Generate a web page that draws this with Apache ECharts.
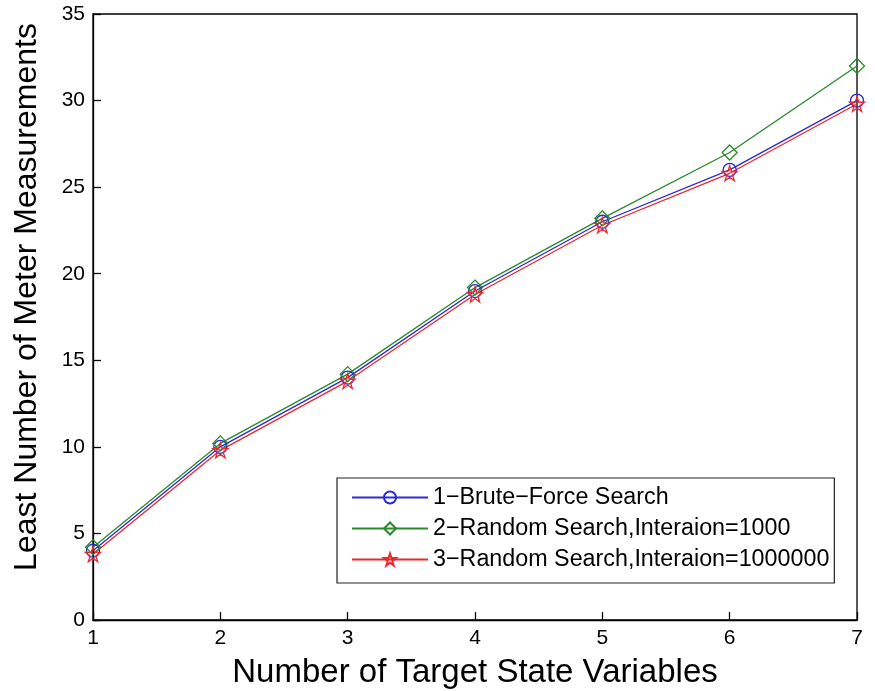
<!DOCTYPE html>
<html>
<head>
<meta charset="utf-8">
<script src="https://cdn.jsdelivr.net/npm/echarts@6/dist/echarts.min.js"></script>
<style>
  html, body { margin: 0; padding: 0; background: #fff; }
  #chart { width: 875px; height: 691px; }
</style>
</head>
<body>
<div id="chart"></div>
<script>
// Number of target state variables
const stateVars = [1, 2, 3, 4, 5, 6, 7];
// Least number of meter measurements found by each method
const bruteForce = [4, 10, 14, 19, 23, 26, 30];
const random1000 = [4.2, 10.2, 14.2, 19.2, 23.2, 27, 32];
const random1000000 = [3.8, 9.8, 13.8, 18.8, 22.8, 25.8, 29.8];

const seriesNames = [
  '1\u2212Brute\u2212Force Search',
  '2\u2212Random Search,Interaion=1000',
  '3\u2212Random Search,Interaion=1000000'
];

const FONT = '"Liberation Sans", Arial, Helvetica, sans-serif';
const STAR = 'path://M50,0 L61.8,35.3 L98.9,35.3 L68.8,57.4 L80.3,92.7 L50,70.9 L19.7,92.7 L31.2,57.4 L1.1,35.3 L38.2,35.3 Z';

function pairs(vals) {
  return stateVars.map((x, i) => [x, vals[i]]);
}

function lineSeries(name, vals, color, symbol, size) {
  return {
    name: name,
    type: 'line',
    data: pairs(vals),
    symbol: symbol,
    symbolSize: size,
    showAllSymbol: true,
    lineStyle: { color: color, width: 1.3 },
    itemStyle: { color: 'rgba(255,255,255,0)', borderColor: color, borderWidth: 1.3 },
    emphasis: { disabled: true }
  };
}

function axisLine() {
  return { show: true, onZero: false, lineStyle: { color: '#000', width: 1.3 } };
}
function innerTick() {
  return { show: true, inside: true, length: 8, lineStyle: { color: '#000', width: 1.3 } };
}
function tickLabel() {
  return { show: true, fontFamily: FONT, fontSize: 21, color: '#000', margin: 8 };
}
// grid lines are kept on but invisible, so the tick layer is built with them
function hiddenSplit() {
  return { show: true, lineStyle: { color: 'rgba(0,0,0,0)', width: 1 } };
}

const chart = echarts.init(document.getElementById('chart'));
chart.setOption({
  backgroundColor: '#fff',
  // the grid border closes the plot box on the top and right
  grid: {
    left: 93, right: 18, top: 14, bottom: 71, outerBoundsMode: 'none',
    show: true, borderColor: '#000', borderWidth: 1.3, backgroundColor: 'transparent'
  },
  xAxis: {
    type: 'value', min: 1, max: 7, interval: 1,
    name: 'Number of Target State Variables',
    nameLocation: 'middle', nameGap: 36,
    nameTextStyle: { fontFamily: FONT, fontSize: 33, color: '#000' },
    axisLine: axisLine(),
    axisTick: innerTick(),
    axisLabel: tickLabel(),
    splitLine: hiddenSplit()
  },
  yAxis: {
    type: 'value', min: 0, max: 35, interval: 5,
    name: 'Least Number of Meter Measurements',
    nameLocation: 'middle', nameGap: 50,
    nameTextStyle: { fontFamily: FONT, fontSize: 32, color: '#000', padding: [0, 0, 0, 40] },
    axisLine: axisLine(),
    axisTick: innerTick(),
    axisLabel: tickLabel(),
    splitLine: hiddenSplit()
  },
  legend: {
    orient: 'vertical',
    left: 337, top: 478,
    padding: [8, 5, 12, 14],
    itemWidth: 76, itemHeight: 15, itemGap: 8,
    backgroundColor: '#fff',
    borderColor: '#222', borderWidth: 1.2,
    textStyle: { fontFamily: FONT, fontSize: 23.3, color: '#000' },
    data: seriesNames
  },
  series: [
    lineSeries(seriesNames[0], bruteForce, '#2a2ad8', 'circle', 13),
    lineSeries(seriesNames[1], random1000, '#2a8a2a', 'diamond', 15),
    lineSeries(seriesNames[2], random1000000, '#e8282c', STAR, 15)
  ]
});
</script>
</body>
</html>
